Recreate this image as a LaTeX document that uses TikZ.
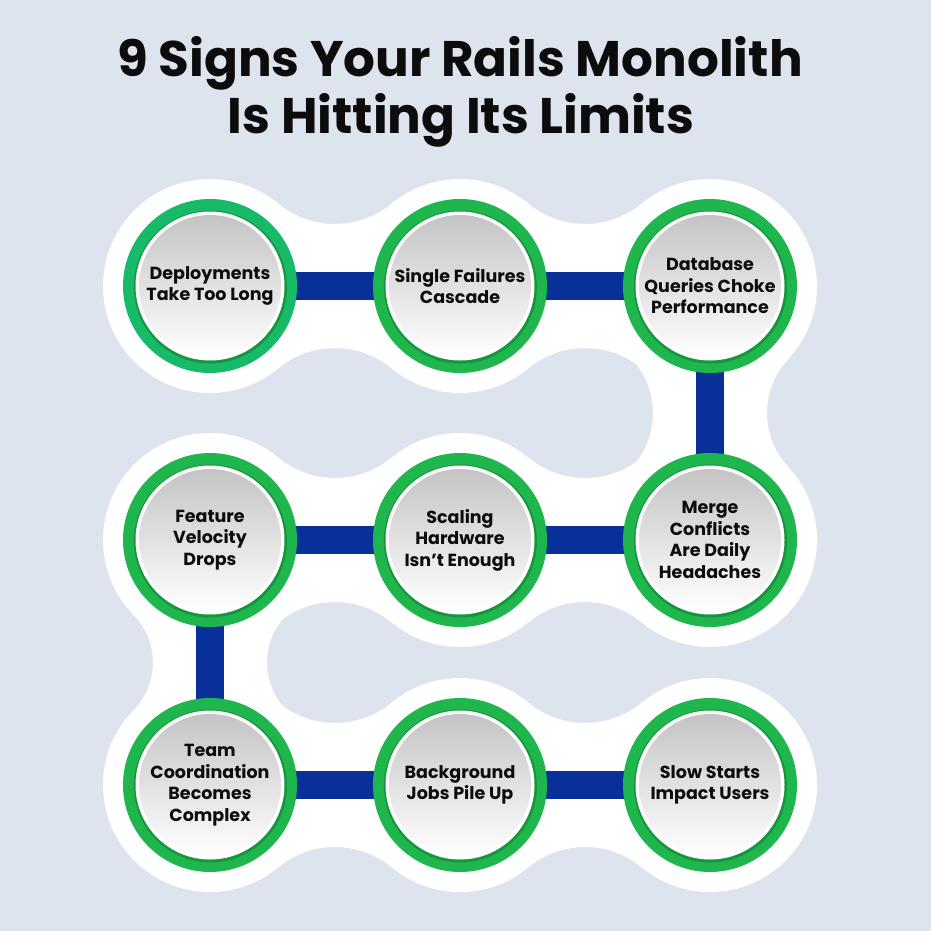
\documentclass[tikz,border=0pt]{standalone}
\usepackage{fontspec}
\setmainfont{Poppins}
\definecolor{bgc}{RGB}{222,228,238}
\definecolor{blu}{RGB}{8,48,152}
\definecolor{grn}{RGB}{32,182,78}
\definecolor{teal1}{RGB}{22,186,104}
\definecolor{dgrn}{RGB}{20,150,60}
\definecolor{gtop}{RGB}{196,196,196}
\definecolor{gmid}{RGB}{236,236,236}
\definecolor{txt}{RGB}{12,12,12}
\pgfdeclarelayer{blob}
\pgfdeclarelayer{links}
\pgfsetlayers{blob,links,main}
\newcommand\WR{107}
\newcommand\mkneck[5]{%
 \pgfmathsetmacro\nf{((#4/200)^2+(#5/100)^2-(\WR/100)^2)*5000/(\WR-#5)}%
 \pgfmathsetmacro\nh{#5+\nf}%
 \pgfmathsetmacro\nphi{atan2(\nh,#4/2)}%
 \pgfmathsetmacro\tx{\WR*cos(\nphi)}%
 \pgfmathsetmacro\ty{\WR*sin(\nphi)}%
 \begin{scope}[shift={(#1,#2)},rotate=#3]
 \fill[white] (\tx,\ty) arc[start angle=180+\nphi,end angle=360-\nphi,radius=\nf]
   -- (#4-\tx,-\ty) arc[start angle=\nphi,end angle=180-\nphi,radius=\nf] -- cycle;
 \end{scope}}
\tikzset{
 sign/.style={circle, minimum size=174pt, inner sep=0pt, fill=grn, align=center,
   font=\fontsize{17.5}{21.5}\selectfont\bfseries, text=txt,
   path picture={
     \fill[dgrn] ([xshift=0.4pt,yshift=-1pt]path picture bounding box.center) circle[radius=76.5pt];
     \fill[white] (path picture bounding box.center) circle[radius=74.5pt];
     \shade[top color=gtop, middle color=gmid, bottom color=white] (path picture bounding box.center) circle[radius=71pt];
   }},
 tealring/.style={fill=teal1},
 link/.style={draw=blu, line width=28pt},
 title/.style={font=\fontsize{50}{56}\selectfont\bfseries, text=txt, anchor=base}
}
\begin{document}
\begin{tikzpicture}[x=1pt,y=-1pt]
\useasboundingbox (0,0) rectangle (931,931);
\begin{pgfonlayer}{blob}
\fill[bgc] (0,0) rectangle (931,931);
\foreach \cx/\cy in {210/286,460/286,710/286,210/540,460/540,710/540,210/785,460/785,710/785}
  \fill[white] (\cx,\cy) circle[radius=107pt];
\mkneck{210}{286}{0}{250}{62}
\mkneck{460}{286}{0}{250}{62}
\mkneck{710}{286}{-90}{254}{57}
\mkneck{210}{540}{0}{250}{62}
\mkneck{460}{540}{0}{250}{62}
\mkneck{210}{540}{-90}{245}{57}
\mkneck{210}{785}{0}{250}{62}
\mkneck{460}{785}{0}{250}{62}
\end{pgfonlayer}

\node[title] (t1) at (460,77) {9 Signs Your Rails Monolith};
\node[title] (t2) at (461,133) {Is Hitting Its Limits};

\node[sign, tealring] (s1) at (210,286) {Deployments\\Take Too Long};
\node[sign] (s2) at (460,286) {Single Failures\\Cascade};
\node[sign] (s3) at (710,286) {Database\\Queries Choke\\Performance};
\node[sign] (s4) at (710,540) {Merge\\Conflicts\\Are Daily\\Headaches};
\node[sign] (s5) at (460,540) {Scaling\\Hardware\\Isn’t Enough};
\node[sign] (s6) at (210,540) {Feature\\Velocity\\Drops};
\node[sign] (s7) at (210,785) {Team\\Coordination\\Becomes\\Complex};
\node[sign] (s8) at (460,785) {Background\\Jobs Pile Up};
\node[sign] (s9) at (710,785) {Slow Starts\\Impact Users};

\begin{pgfonlayer}{links}
\draw[link] (s1.center) -- (s2.center) -- (s3.center) -- (s4.center) -- (s5.center) -- (s6.center) -- (s7.center) -- (s8.center) -- (s9.center);
\end{pgfonlayer}
\end{tikzpicture}
\end{document}
